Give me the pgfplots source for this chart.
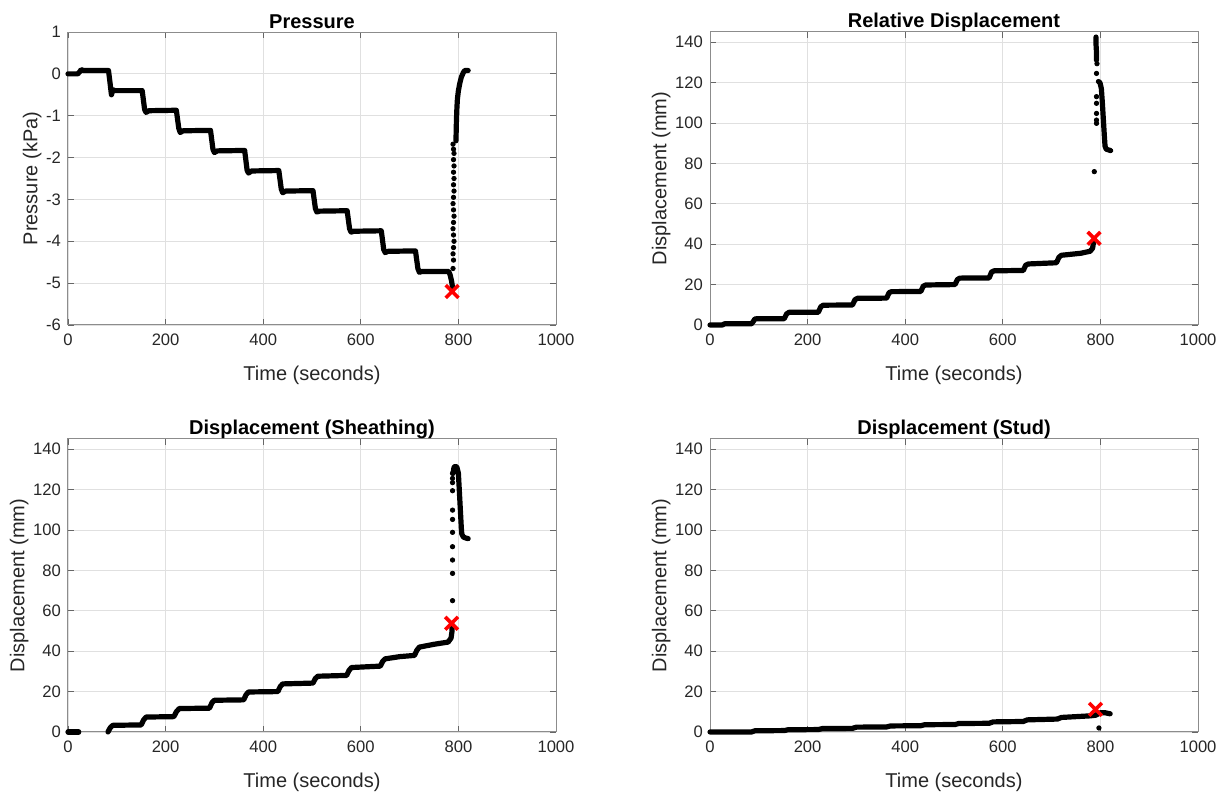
\documentclass[border=0pt]{standalone}
\usepackage{fontspec}
\setmainfont{Liberation Sans}
\usepackage{pgfplots}
\pgfplotsset{compat=1.18}

\pgfplotsset{
 mystyle/.style={
   scale only axis, width=244pt, height=146.5pt,
   xmin=0,xmax=1000, xtick={0,200,...,1000},
   grid=major, major grid style={black!12, line width=0.4pt},
   axis line style={black!45, line width=0.5pt},
   tick style={black!60, line width=0.4pt},
   tick align=inside, major tick length=3pt,
   tick label style={font=\fontsize{8.3}{10}\selectfont, text=black!85},
   x tick label style={yshift=-1pt},
   label style={font=\fontsize{10}{12}\selectfont, text=black!85},
   xlabel style={yshift=-3pt},
   ylabel style={yshift=-4.5pt},
   title style={font=\fontsize{10}{12}\selectfont\bfseries, at={(0.5,1)}, anchor=base, yshift=-4pt},
   xlabel={Time (seconds)},
   /pgf/number format/assume math mode=true,
   /pgf/number format/1000 sep={},
   anchor=south west, clip=false,
 },
 dispstyle/.style={ymin=0, ymax=145, ytick={0,20,...,140}, ylabel={Displacement (mm)}},
 dat/.style={black, line width=2.6pt, line join=round, line cap=round, mark=none},
 dots/.style={only marks, mark=*, mark size=1.1pt, black},
 fail/.style={only marks, mark=x, mark size=4.5pt, red, line width=1.8pt},
}

\begin{document}
\begin{tikzpicture}
\path[use as bounding box] (0,0) rectangle (614pt,396pt);

% ---------------- Pressure ----------------
\begin{axis}[mystyle, at={(34pt,233.5pt)}, title={Pressure},
  ymin=-6, ymax=1, ytick={-6,-5,...,1}, ylabel={Pressure (kPa)}]
\addplot[dat] coordinates {
(0,0)(20,0)(24,0.05)(27,0.1)(32,0.08)(83,0.08)(86,-0.2)(89,-0.5)(92,-0.38)(96,-0.4)(152,-0.4)
(157,-0.85)(160,-0.92)(166,-0.88)(222,-0.87)(227,-1.3)(230,-1.4)(236,-1.36)(292,-1.35)
(297,-1.8)(300,-1.88)(306,-1.84)(362,-1.83)(367,-2.3)(370,-2.37)(376,-2.32)(432,-2.31)
(437,-2.75)(440,-2.84)(446,-2.8)(502,-2.79)(507,-3.22)(510,-3.3)(516,-3.28)(572,-3.27)
(577,-3.7)(580,-3.78)(586,-3.76)(642,-3.75)(647,-4.2)(650,-4.27)(656,-4.24)(712,-4.23)
(717,-4.65)(720,-4.74)(726,-4.72)(780,-4.72)(783,-4.8)(786,-4.95)(788,-5.1)};
\addplot[dots] coordinates {
(789,-4.65)(790,-4.45)(789,-4.3)(790,-4.15)(791,-4.0)(790,-3.85)(789,-3.7)(790,-3.55)
(791,-3.4)(790,-3.25)(789,-3.1)(790,-2.95)(791,-2.8)(790,-2.65)(791,-2.5)(790,-2.35)
(791,-2.2)(790,-2.05)(791,-1.9)(790,-1.8)(789,-1.68)};
\addplot[dat] coordinates {
(795,-1.6)(796,-1.1)(797,-0.8)(798,-0.6)(800,-0.4)(803,-0.22)(806,-0.08)(810,0.03)(813,0.08)(820,0.08)};
\addplot[fail] coordinates {(787,-5.2)};
\end{axis}

% ---------------- Relative Displacement ----------------
\begin{axis}[mystyle, dispstyle, at={(355pt,233.5pt)}, title={Relative Displacement}]
\addplot[dat] coordinates {
(0,0)(25,0)(30,0.6)(85,0.6)(88,1.5)(92,3)(97,3.1)(152,3.1)(157,5.5)(162,6.3)(222,6.3)
(227,9)(232,9.8)(292,9.9)(297,12.5)(302,13.2)(362,13.3)(367,16)(372,16.5)(432,16.6)
(437,19.2)(442,19.8)(502,20)(507,22.5)(512,23.2)(572,23.3)(577,26.2)(582,26.8)(642,27)
(647,29.6)(652,30.2)(710,30.8)(715,33.5)(720,34.5)(760,35.5)(779,36.5)(784,38)(786,41)};
\addplot[dots] coordinates {
(787.5,75.9)(792,99.8)(792,101.4)(792,104.7)(792,109.7)(792,113)(792,124.5)(793,129.3)};
\addplot[dat] coordinates {(791,142.5)(791,139)(792,135)(792,131)};
\addplot[dat] coordinates {
(796,120.5)(799,120)(802,117)(804,110)(806,102)(808,94)(809.5,88.5)(812,87)(821,86.3)};
\addplot[fail] coordinates {(787,42.9)};
\end{axis}

% ---------------- Sheathing ----------------
\begin{axis}[mystyle, dispstyle, at={(34pt,30pt)}, title={Displacement (Sheathing)}]
\addplot[dat] coordinates {(0,0)(22,0)};
\addplot[dat] coordinates {
(82,0)(85,1.5)(88,2.5)(92,3.3)(150,3.5)(155,6)(160,7.4)(217,7.6)(222,10)(228,11.6)
(290,11.8)(295,14.5)(300,15.7)(360,15.9)(365,18.5)(370,19.8)(430,20)(435,22.5)(440,23.8)
(502,24.2)(507,26.5)(512,27.6)(571,28)(576,30.5)(581,31.9)(640,32.6)(645,35)(650,36.2)
(680,37.3)(710,37.9)(715,40.5)(720,42)(750,43.4)(779,44.5)(785,46.5)(787,50)(787,53)};
\addplot[dots] coordinates {
(788,65)(788,78.5)(788,85.1)(788,91.7)(788,98.8)(788,105.2)(788,109.8)(788,119.4)
(788,123.4)(788,125.5)(788,128)};
\addplot[dat] coordinates {
(789,128)(791,131)(794,131.5)(797,131)(800,128)(802,119)(804,110)(806,101)(807,98)
(810,96.5)(815,96)(820,95.7)};
\addplot[fail] coordinates {(786,53.8)};
\end{axis}

% ---------------- Stud ----------------
\begin{axis}[mystyle, dispstyle, at={(355pt,30pt)}, title={Displacement (Stud)}]
\addplot[dat] coordinates {
(0,0)(85,0)(92,0.6)(152,0.7)(160,1.1)(222,1.2)(230,1.7)(292,1.8)(300,2.4)(362,2.5)
(370,3.0)(432,3.1)(440,3.6)(502,3.7)(510,4.2)(572,4.3)(580,5.0)(642,5.2)(650,6.0)
(712,6.4)(720,7.2)(780,8.0)(790,8.3)(800,9.5)(810,9.5)(820,9.0)};
\addplot[dots] coordinates {(797,2)};
\addplot[fail] coordinates {(790,11.2)};
\end{axis}
\end{tikzpicture}
\end{document}
